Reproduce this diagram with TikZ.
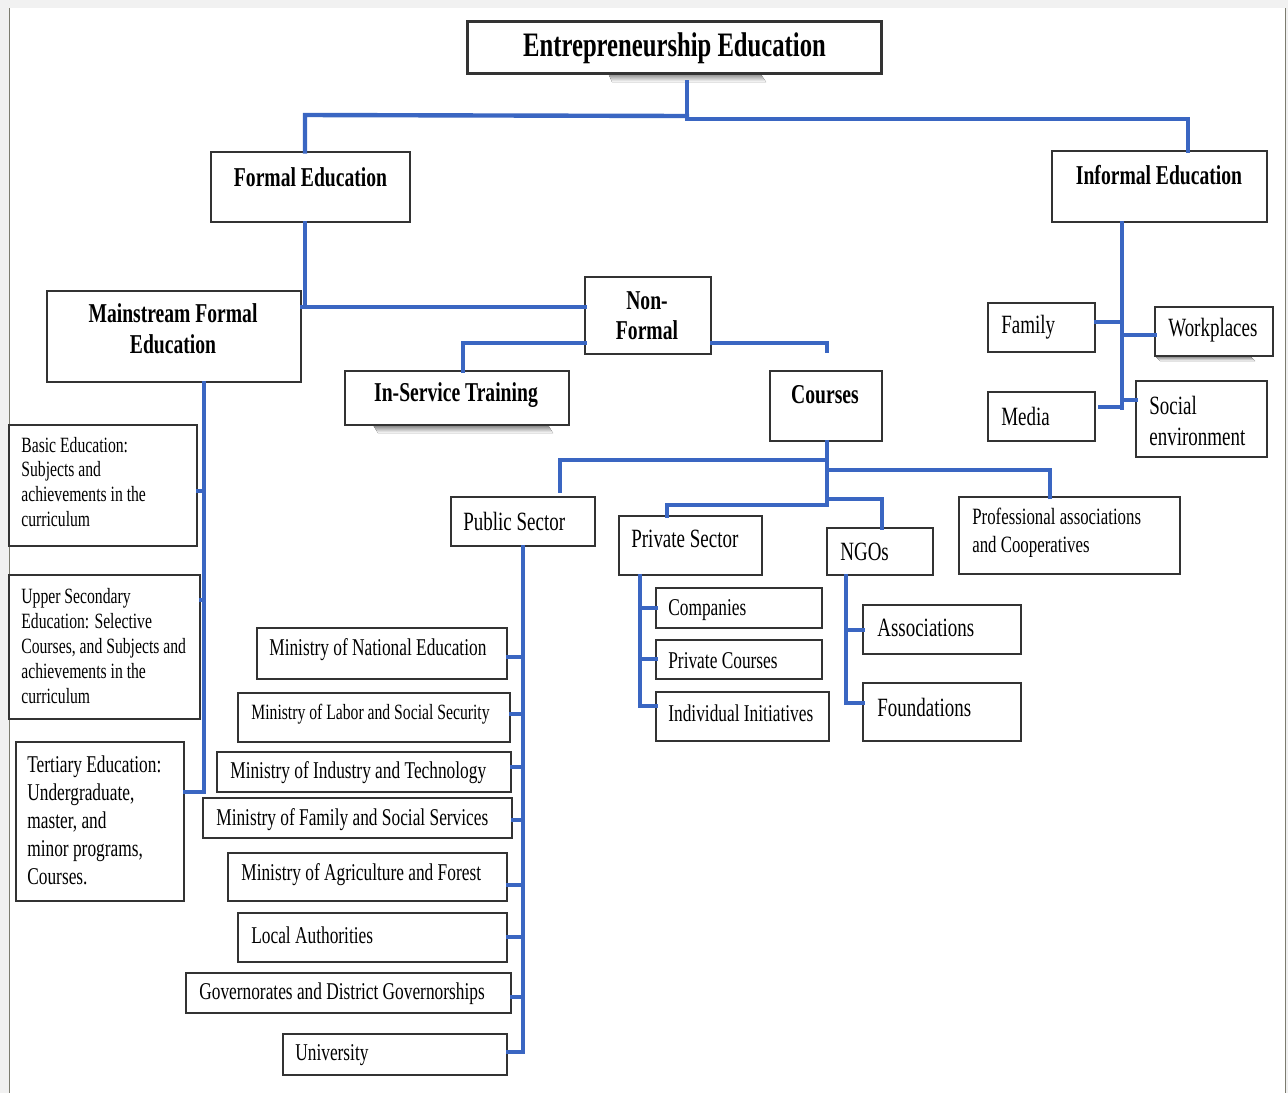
\documentclass[tikz,border=0pt]{standalone}
\usepackage{fontspec}
\setmainfont{Liberation Serif}[FakeStretch=0.72]
\usetikzlibrary{fit}
\definecolor{lnk}{HTML}{3A66C2}
\definecolor{bordr}{HTML}{333333}
\definecolor{pagegrey}{HTML}{F1F1F1}
\definecolor{frameline}{HTML}{7C7C70}
\definecolor{shade}{HTML}{ECECEC}
\tikzset{
  boxst/.style={draw=bordr, line width=0.8pt, fill=white, inner sep=0pt},
  lnkst/.style={draw=lnk, line width=2.5pt, line cap=rect},
  txt/.style={inner sep=0pt, text=black},
  ftitle/.style={font=\fontsize{19.5}{22}\selectfont\bfseries},
  fbold/.style={font=\fontsize{15.5}{17.6}\selectfont\bfseries},
  flarge/.style={font=\fontsize{15}{17.6}\selectfont},
  fmid/.style={font=\fontsize{13.7}{15.9}\selectfont},
  fsmall/.style={font=\fontsize{12.4}{14.2}\selectfont},
}
\newcommand\mkbox[5]{%
  \path (#2,#3) coordinate (#1-nw) (#4,#5) coordinate (#1-se);
  \node[boxst, fit=(#1-nw)(#1-se)] (#1) {};}
\begin{document}
\begin{tikzpicture}[x=0.02cm, y=-0.02cm]
\useasboundingbox (0,0) rectangle (1288,1093);
% page frame
\fill[pagegrey] (0,0) rectangle (1288,8);
\fill[pagegrey] (0,8) rectangle (9,1093);
\fill[pagegrey] (1286,8) rectangle (1288,1093);
\draw[frameline, line width=0.8pt] (9.5,8) -- (9.5,1093);
\draw[frameline, line width=0.8pt] (1285.5,8) -- (1285.5,1093);
% light shadows
\fill[shade] (608,73) -- (760,73) -- (766,82) -- (612,82) -- cycle;
\fill[shade] (373,425) -- (548,425) -- (553,433) -- (378,433) -- cycle;
\fill[shade] (1155,356) -- (1250,356) -- (1255,361) -- (1160,361) -- cycle;

% ---------- boxes ----------
\mkbox{ee}{468}{22}{881}{73}
\mkbox{fe}{211}{152}{410}{222}
\mkbox{ie}{1052}{151}{1267}{222}
\mkbox{mfe}{47}{291}{301}{382}
\mkbox{nf}{585}{277}{711}{354}
\mkbox{ist}{345}{371}{569}{425}
\mkbox{crs}{770}{371}{882}{441}
\mkbox{fam}{988}{303}{1095}{352}
\mkbox{wrk}{1155}{307}{1273}{356}
\mkbox{med}{988}{392}{1095}{441}
\mkbox{soc}{1136}{381}{1267}{457}
\mkbox{basic}{9}{425}{197}{546}
\mkbox{upper}{9}{575}{200}{719}
\mkbox{tert}{16}{742}{184}{901}
\mkbox{pub}{451}{497}{595}{546}
\mkbox{priv}{619}{516}{762}{575}
\mkbox{ngo}{827}{528}{933}{575}
\mkbox{prof}{959}{497}{1180}{574}
\mkbox{comp}{656}{588}{822}{628}
\mkbox{pcrs}{656}{640}{822}{679}
\mkbox{indi}{656}{692}{829}{741}
\mkbox{assoc}{863}{605}{1021}{654}
\mkbox{found}{863}{683}{1021}{741}
\mkbox{m1}{257}{628}{507}{679}
\mkbox{m2}{238}{693}{510}{742}
\mkbox{m3}{217}{752}{511}{792}
\mkbox{m4}{203}{798}{512}{838}
\mkbox{m5}{228}{853}{507}{901}
\mkbox{m6}{238}{913}{507}{962}
\mkbox{m7}{186}{973}{511}{1013}
\mkbox{m8}{283}{1034}{507}{1075}
\draw[bordr, line width=1.3pt] (ee.north west) rectangle (ee.south east);

% ---------- texts ----------
\node[txt, ftitle] (t-ee) at (674.5,48) {Entrepreneurship Education};
\node[txt, fbold] (t-fe) at (310.5,177) {Formal Education};
\node[txt, fbold] (t-ie) at (1159,175) {Informal Education};
\node[txt, fbold, align=center, font=\fontsize{15.5}{17.6}\selectfont\bfseries] (t-mfe) at (173,329) {Mainstream Formal\\Education};
\node[txt, fbold, align=center, font=\fontsize{15.5}{17}\selectfont\bfseries] (t-nf) at (647,316) {Non-\\Formal};
\node[txt, fbold] (t-ist) at (456,395) {In-Service Training};
\node[txt, fbold] (t-crs) at (825,395) {Courses};

\node[txt, flarge, anchor=west] (t-fam) at (1001,327) {Family};
\node[txt, flarge, anchor=west] (t-wrk) at (1168,330) {Workplaces};
\node[txt, flarge, anchor=west] (t-med) at (1001,416) {Media};
\node[txt, anchor=west, align=left, font=\fontsize{15}{17.6}\selectfont] (t-soc) at (1149,421) {Social\\environment};

\node[txt, anchor=west, align=left, font=\fontsize{12.4}{14.2}\selectfont] (t-basic) at (21,482) {Basic Education:\\Subjects and\\achievements in the\\curriculum};
\node[txt, anchor=west, align=left, font=\fontsize{12.4}{14.2}\selectfont] (t-upper) at (21,646) {Upper Secondary\\Education: Selective\\Courses, and Subjects and\\achievements in the\\curriculum};
\node[txt, anchor=west, align=left, font=\fontsize{13.7}{15.9}\selectfont] (t-tert) at (27,820) {Tertiary Education:\\Undergraduate,\\master, and\\minor programs,\\Courses.};

\node[txt, flarge, anchor=west] (t-pub) at (463,521) {Public Sector};
\node[txt, flarge, anchor=west] (t-priv) at (631,539) {Private Sector};
\node[txt, flarge, anchor=west] (t-ngo) at (840,552) {NGOs};
\node[txt, anchor=west, align=left, font=\fontsize{13.3}{15.9}\selectfont] (t-prof) at (972,533) {Professional associations\\and Cooperatives};

\node[txt, fmid, anchor=west] (t-comp) at (668,610) {Companies};
\node[txt, fmid, anchor=west] (t-pcrs) at (668,661) {Private Courses};
\node[txt, fmid, anchor=west] (t-indi) at (668,713) {Individual Initiatives};
\node[txt, flarge, anchor=west] (t-assoc) at (877,628) {Associations};
\node[txt, flarge, anchor=west] (t-found) at (877,707) {Foundations};

\node[txt, fmid, anchor=west] (t-m1) at (269,650) {Ministry of National Education};
\node[txt, fsmall, anchor=west] (t-m2) at (251,714) {Ministry of Labor and Social Security};
\node[txt, fmid, anchor=west] (t-m3) at (230,773) {Ministry of Industry and Technology};
\node[txt, fmid, anchor=west] (t-m4) at (216,820) {Ministry of Family and Social Services};
\node[txt, fmid, anchor=west] (t-m5) at (241,875) {Ministry of Agriculture and Forest};
\node[txt, fmid, anchor=west] (t-m6) at (251,935) {Local Authorities};
\node[txt, fmid, anchor=west] (t-m7) at (199,994) {Governorates and District Governorships};
\node[txt, fmid, anchor=west] (t-m8) at (295,1055) {University};

% ---------- connectors ----------
% top level
\coordinate (j0) at (687,116);
\draw[lnkst] (687,82) -- (j0);
\draw[lnkst] (j0) -- (305,115) -- (fe.north -| 305,0);
\draw[lnkst] (687,119) -- (1188,119) -- (ie.north -| 1188,0);
% formal -> non-formal / mainstream
\draw[lnkst] (fe.south -| 305,0) -- (305,307) -- (nf.west |- 0,307);
\draw[lnkst] (mfe.east |- 0,307) -- (305,307);
% non-formal children
\draw[lnkst] (nf.west |- 0,343) -- (463,343) -- (ist.north -| 463,0);
\coordinate (nfstub) at (827,351);
\draw[lnkst] (nf.east |- 0,343) -- (827,343) -- (nfstub);
% courses children
\draw[lnkst] (crs.south -| 827,0) -- (827,505);
\draw[lnkst] (827,460) -- (560,460) -- (560,491);
\draw[lnkst] (827,470) -- (1050,470) -- (prof.north -| 1050,0);
\draw[lnkst] (827,505) -- (667,505) -- (priv.north -| 667,0);
\draw[lnkst] (827,499) -- (882,499) -- (ngo.north -| 882,0);
% private sector children
\draw[lnkst] (priv.south -| 640,0) -- (640,706);
\draw[lnkst] (640,608) -- (comp.west |- 0,608);
\draw[lnkst] (640,659) -- (pcrs.west |- 0,659);
\draw[lnkst] (640,706) -- (indi.west |- 0,706);
% NGO children
\draw[lnkst] (ngo.south -| 846,0) -- (846,703);
\draw[lnkst] (846,630) -- (assoc.west |- 0,630);
\draw[lnkst] (846,703) -- (found.west |- 0,703);
% public sector children
\draw[lnkst] (pub.south -| 523,0) -- (523,1052);
\draw[lnkst] (m1.east |- 0,657) -- (523,657);
\draw[lnkst] (m2.east |- 0,714) -- (523,714);
\draw[lnkst] (m3.east |- 0,767) -- (523,767);
\draw[lnkst] (m4.east |- 0,820) -- (523,820);
\draw[lnkst] (m5.east |- 0,885) -- (523,885);
\draw[lnkst] (m6.east |- 0,937) -- (523,937);
\draw[lnkst] (m7.east |- 0,997) -- (523,997);
\draw[lnkst] (m8.east |- 0,1052) -- (523,1052);
% mainstream children
\draw[lnkst] (mfe.south -| 204,0) -- (204,792);
\draw[lnkst] (basic.east |- 0,491) -- (204,491);
\draw[lnkst] (upper.east |- 0,600) -- (204,600);
\draw[lnkst] (tert.east |- 0,792) -- (204,792);
% informal children
\draw[lnkst] (ie.south -| 1122,0) -- (1122,408);
\draw[lnkst] (fam.east |- 0,322) -- (1122,322);
\draw[lnkst] (1122,335) -- (wrk.west |- 0,335);
\coordinate (medstub) at (1100,407);
\draw[lnkst] (medstub) -- (1122,407);
\draw[lnkst] (1122,400) -- (soc.west |- 0,400);
\end{tikzpicture}
\end{document}
